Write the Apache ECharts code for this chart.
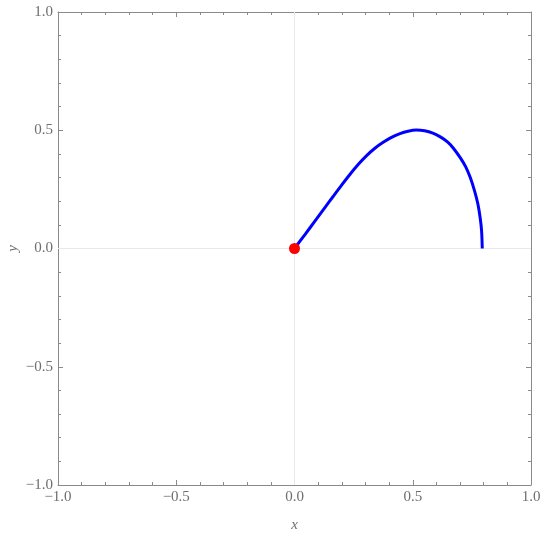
<!DOCTYPE html>
<html>
<head>
<meta charset="utf-8">
<script src="https://cdn.jsdelivr.net/npm/echarts@6/dist/echarts.min.js"></script>
<style>
  html, body { margin: 0; padding: 0; background: #fff; }
  #chart { width: 550px; height: 536px; }
</style>
</head>
<body>
<div id="chart"></div>
<script>
// curve points
var curveX = [0, 0.045, 0.094, 0.13, 0.164, 0.2, 0.235, 0.27, 0.305, 0.34, 0.375, 0.41, 0.446, 0.48, 0.515, 0.55, 0.585, 0.62, 0.648, 0.671, 0.7, 0.724, 0.744, 0.761, 0.775, 0.785, 0.791, 0.794];
var curveY = [0, 0.06, 0.126, 0.175, 0.221, 0.269, 0.314, 0.356, 0.393, 0.424, 0.449, 0.47, 0.486, 0.496, 0.501, 0.498, 0.488, 0.47, 0.45, 0.425, 0.385, 0.345, 0.298, 0.245, 0.19, 0.13, 0.075, 0];
var startPoint = [0, 0];

var fontFam = 'Liberation Serif, DejaVu Serif, serif';
var labelColor = '#6e6e6e';
var lineColor = '#8a8a8a';

function fmt(v) {
  return v.toFixed(1).replace('-', '\u2212');
}

var curveData = curveX.map(function (x, i) { return [x, curveY[i]]; });

var chart = echarts.init(document.getElementById('chart'));

function axisBase(show) {
  return {
    type: 'value', min: -1, max: 1, interval: 0.5,
    axisLine: { show: true, onZero: false, lineStyle: { color: lineColor, width: 1 } },
    axisTick: { show: true, inside: true, length: 5, lineStyle: { color: lineColor } },
    minorTick: { show: true, splitNumber: 5, length: 3, lineStyle: { color: lineColor } },
    splitLine: { show: false },
    axisLabel: {
      show: show, color: labelColor, fontFamily: fontFam, fontSize: 15,
      formatter: fmt, margin: 5
    }
  };
}

var xa = axisBase(true);
xa.position = 'bottom';
xa.name = 'x';
xa.nameLocation = 'middle';
xa.nameGap = 33;
xa.nameMoveOverlap = false;
xa.nameTextStyle = { color: labelColor, fontFamily: fontFam, fontStyle: 'italic', fontSize: 15, verticalAlign: 'top' };
var xTop = axisBase(false);
xTop.position = 'top';

var ya = axisBase(true);
ya.position = 'left';
ya.name = 'y';
ya.nameLocation = 'middle';
ya.nameGap = 37;
ya.nameRotate = 90;
ya.nameMoveOverlap = false;
ya.nameTextStyle = { color: labelColor, fontFamily: fontFam, fontStyle: 'italic', fontSize: 15 };
var yRight = axisBase(false);
yRight.position = 'right';

chart.setOption({
  animation: false,
  backgroundColor: '#fff',
  grid: { left: 58, right: 19, top: 12, bottom: 51, containLabel: false, outerBoundsMode: 'none' },
  xAxis: [xa, xTop],
  yAxis: [ya, yRight],
  series: [
    {
      type: 'line',
      data: curveData,
      smooth: 0.3,
      showSymbol: false,
      lineStyle: { color: '#0000ff', width: 3 },
      z: 3,
      markLine: {
        silent: true,
        symbol: ['none', 'none'],
        label: { show: false },
        lineStyle: { color: '#e8e8e8', width: 1, type: 'solid' },
        data: [{ xAxis: 0 }, { yAxis: 0 }],
        z: 1
      }
    },
    {
      type: 'scatter',
      data: [startPoint],
      symbolSize: 11,
      itemStyle: { color: '#ff0000', opacity: 1 },
      z: 5
    }
  ]
});
</script>
</body>
</html>
